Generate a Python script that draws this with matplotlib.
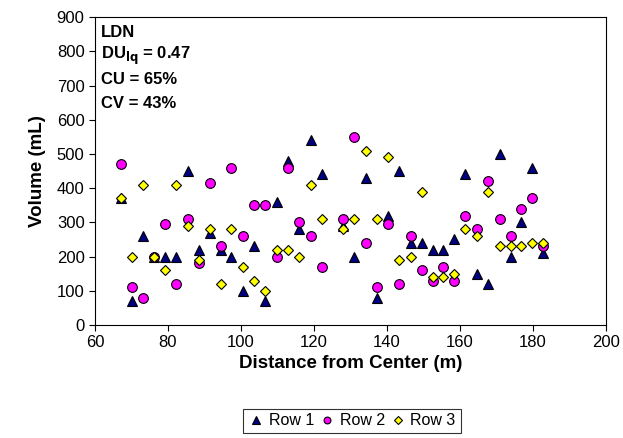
import numpy as np
import matplotlib.pyplot as plt

plt.rcParams['font.family'] = ['Liberation Sans', 'DejaVu Sans']

distance = [67.2, 70.1, 73.1, 76.2, 79.2, 82.3, 85.4, 88.4, 91.6, 94.6,
            97.4, 100.6, 103.7, 106.7, 109.8, 112.8, 116.0, 119.1, 122.1, 128.0,
            131.0, 134.2, 137.3, 140.4, 143.4, 146.5, 149.6, 152.5, 155.5, 158.5,
            161.5, 164.8, 167.8, 170.9, 174.0, 176.7, 179.8, 182.9]

row1 = [370, 70, 260, 200, 200, 200, 450, 220, 270, 220,
        200, 100, 230, 70, 360, 480, 280, 540, 440, 290,
        200, 430, 80, 320, 450, 240, 240, 220, 220, 250,
        440, 150, 120, 500, 200, 300, 460, 210]

row2 = [470, 110, 80, 200, 295, 120, 310, 180, 415, 230,
        460, 260, 350, 350, 200, 460, 300, 260, 170, 310,
        550, 240, 110, 295, 120, 260, 160, 130, 170, 130,
        320, 280, 420, 310, 260, 340, 370, 230]

row3 = [370, 200, 410, 200, 160, 410, 290, 190, 280, 120,
        280, 170, 130, 100, 220, 220, 200, 410, 310, 280,
        310, 510, 310, 490, 190, 200, 390, 140, 140, 150,
        280, 260, 390, 230, 230, 230, 240, 240]

fig = plt.figure(figsize=(6.23, 4.38), dpi=100)
ax = fig.add_axes([0.1525, 0.258, 0.82, 0.703])

ax.plot(distance, row1, linestyle='none', marker='^', markersize=7.5,
        markerfacecolor='#000080', markeredgecolor='black', markeredgewidth=0.8, label='Row 1')
ax.plot(distance, row2, linestyle='none', marker='o', markersize=7,
        markerfacecolor='#FF00FF', markeredgecolor='black', markeredgewidth=0.8, label='Row 2')
ax.plot(distance, row3, linestyle='none', marker='D', markersize=5.5,
        markerfacecolor='#FFFF00', markeredgecolor='black', markeredgewidth=0.8, label='Row 3')

ax.set_xlim(60, 200)
ax.set_ylim(0, 900)
ax.set_xticks(np.arange(60, 201, 20))
ax.set_yticks(np.arange(0, 901, 100))
ax.tick_params(labelsize=12, direction='out', length=4)

ax.set_xlabel('Distance from Center (m)', fontsize=13.5, fontweight='bold', labelpad=3)
ax.set_ylabel('Volume (mL)', fontsize=13.5, fontweight='bold', labelpad=8)

txt = ['LDN', r'DU$_{\mathbf{lq}}$ = 0.47', 'CU = 65%', 'CV = 43%']
for i, t in enumerate(txt):
    ax.text(0.012, 0.95 - i * 0.077, t, transform=ax.transAxes, fontsize=12,
            fontweight='bold', va='center', ha='left')

leg = fig.legend(loc='center', bbox_to_anchor=(0.565, 0.039), ncol=3, fontsize=11.5,
                 frameon=True, fancybox=False, edgecolor='black', handletextpad=0.3,
                 columnspacing=0.3, handlelength=1.0, borderpad=0.3, markerscale=0.7)
leg.get_frame().set_linewidth(0.8)

fig.savefig('out.png', dpi=100)
